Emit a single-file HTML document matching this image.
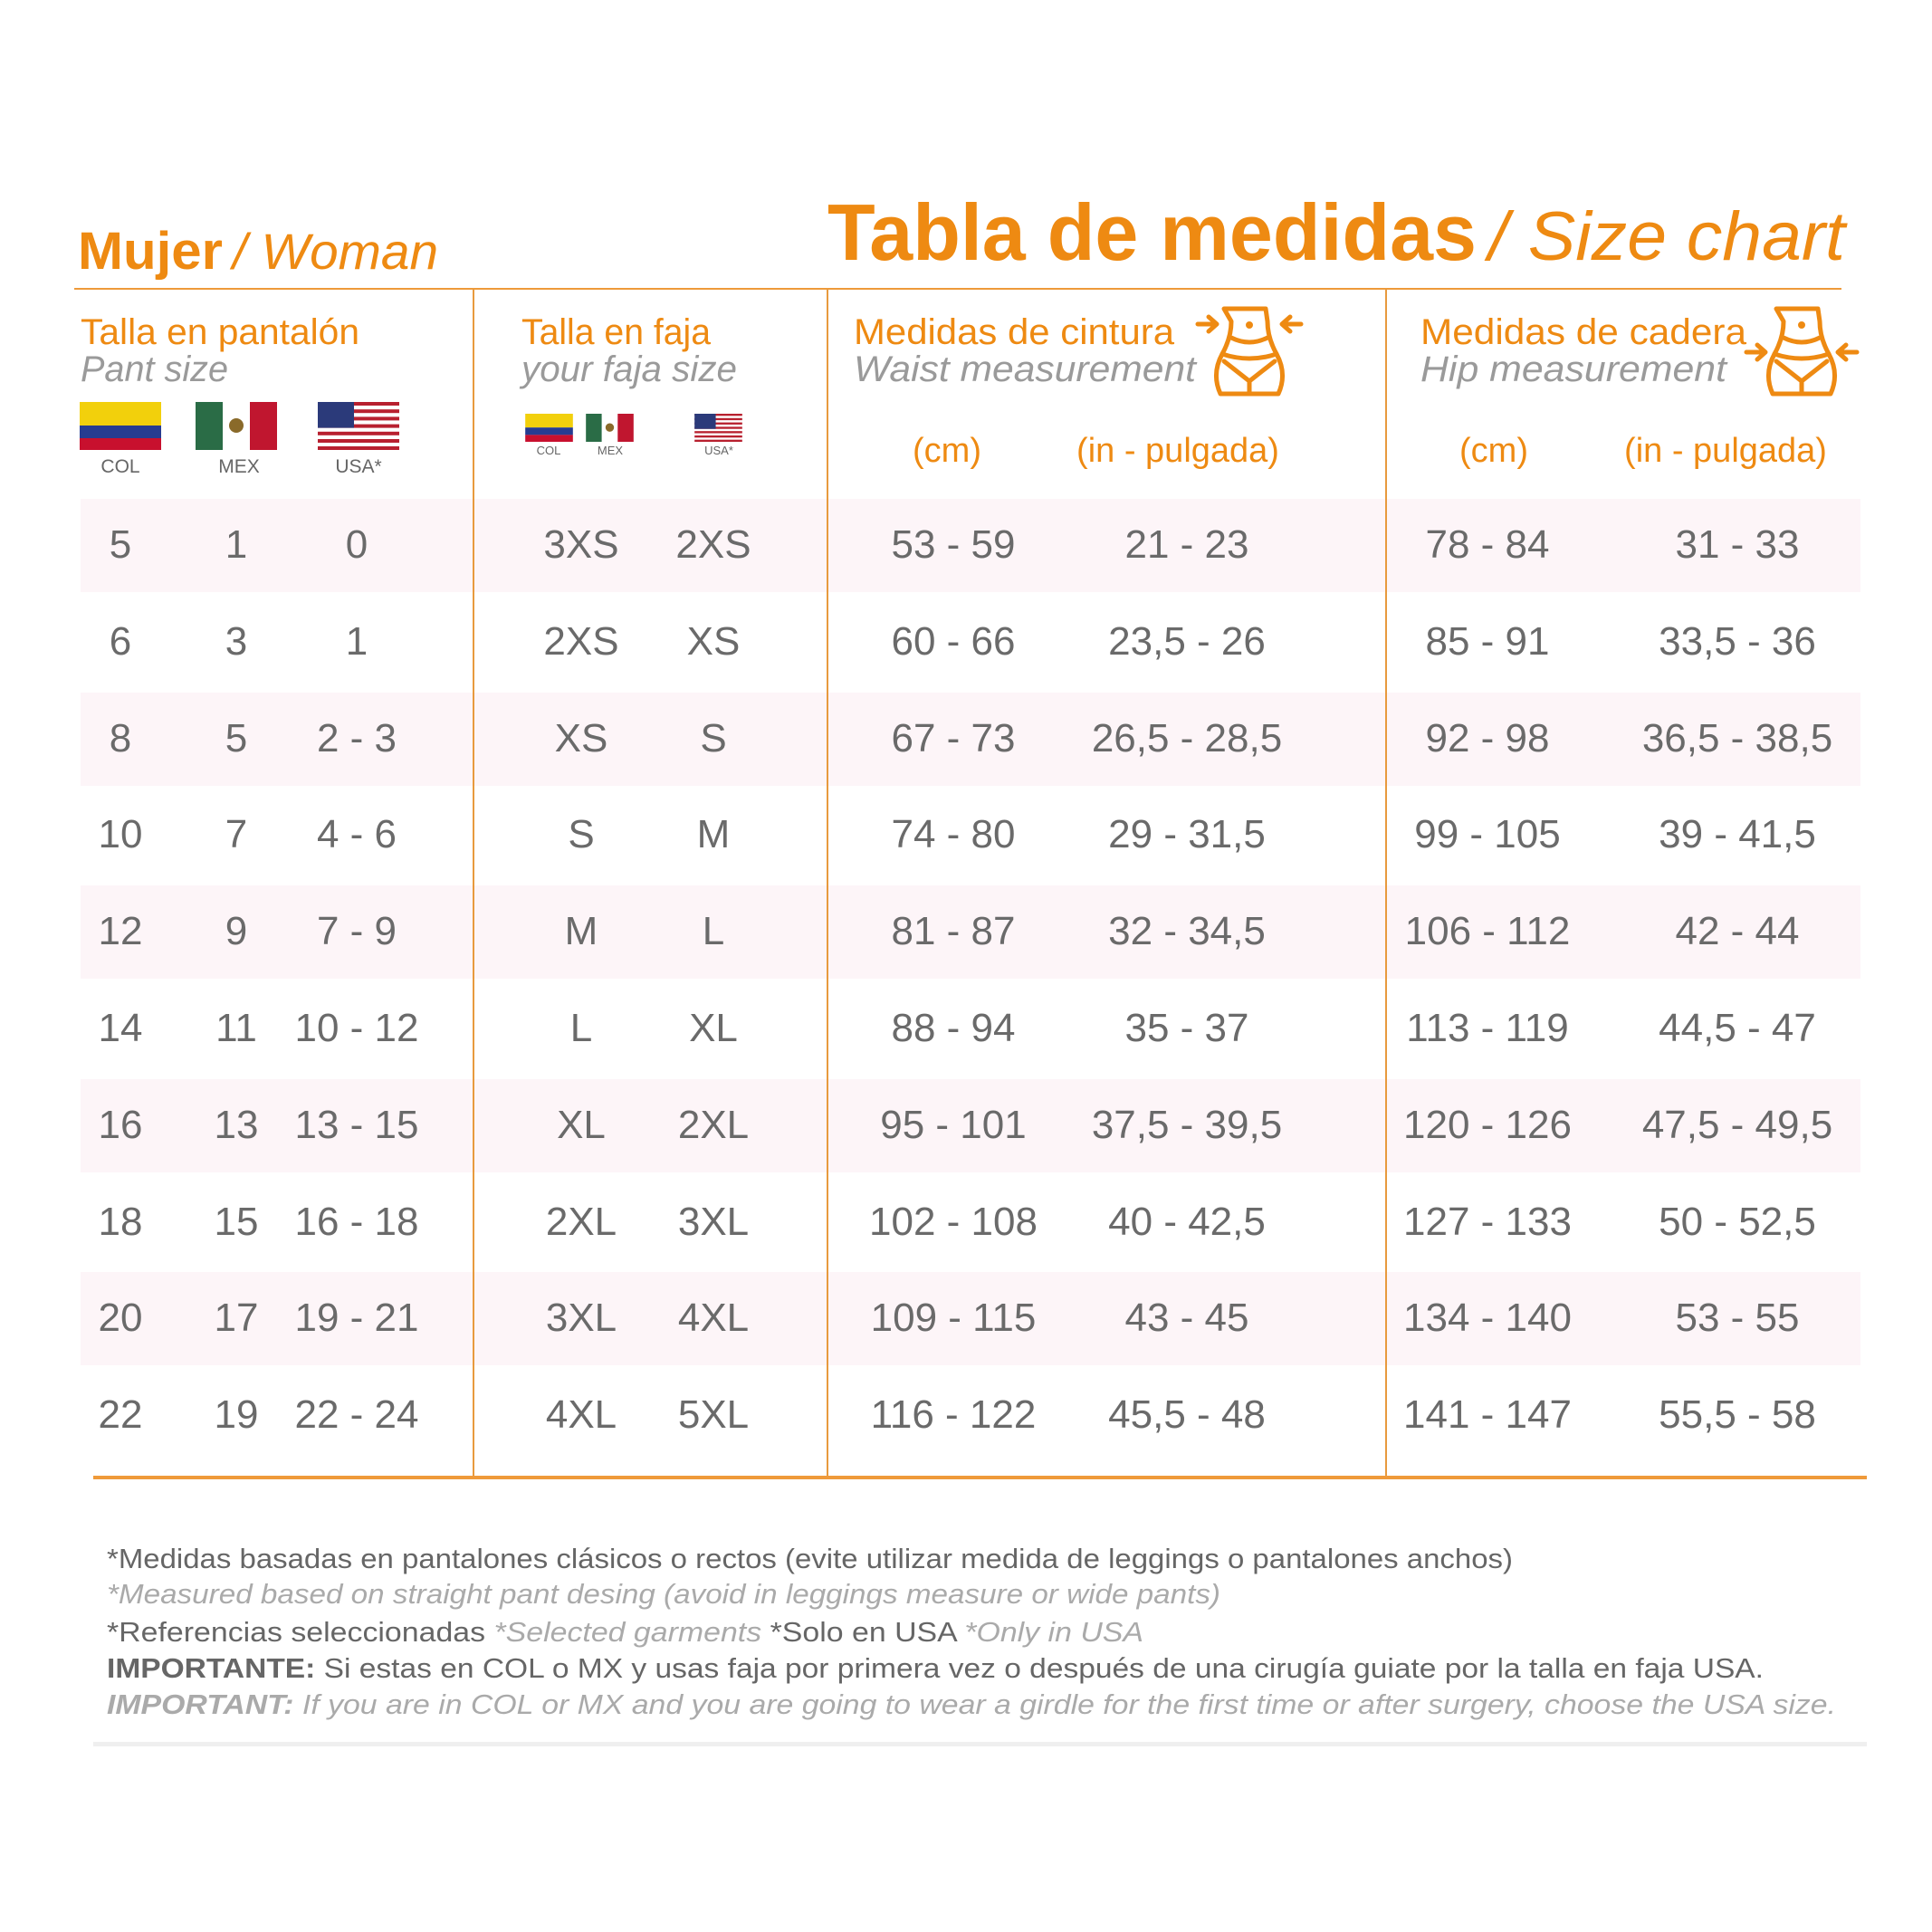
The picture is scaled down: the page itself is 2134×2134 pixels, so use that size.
<!DOCTYPE html>
<html><head><meta charset="utf-8"><style>
html,body{margin:0;padding:0;background:#fff;}
svg{display:block;}
text{font-family:"Liberation Sans",sans-serif;}
.o{fill:#ee8a12;}
.g{fill:#9a9a9a;}
.d{fill:#6a6a6a;font-size:44px;text-anchor:middle;}
.u{fill:#ee8a12;font-size:38px;text-anchor:middle;}
.fl{fill:#666;font-size:21px;text-anchor:middle;}
.fs{fill:#666;font-size:13px;text-anchor:middle;}
</style></head><body>
<svg width="2134" height="2134" viewBox="0 0 2134 2134" xmlns="http://www.w3.org/2000/svg">
<defs>
<symbol id="col" viewBox="0 0 90 53"><rect width="90" height="26" fill="#f2d00c"/><rect y="26" width="90" height="14" fill="#263c91"/><rect y="40" width="90" height="13" fill="#c8102e"/></symbol>
<symbol id="mex" viewBox="0 0 90 53"><rect width="30" height="53" fill="#2a6c46"/><rect x="30" width="30" height="53" fill="#fff"/><rect x="60" width="30" height="53" fill="#c0162f"/><ellipse cx="45" cy="26" rx="8" ry="8" fill="#8a6a2a"/></symbol>
<symbol id="usa" viewBox="0 0 90 53">
<rect width="90" height="53" fill="#fff"/>
<g fill="#b8202f"><rect y="0" width="90" height="4"/><rect y="8.2" width="90" height="4"/><rect y="16.4" width="90" height="4"/><rect y="24.6" width="90" height="4"/><rect y="32.8" width="90" height="4"/><rect y="41" width="90" height="4"/><rect y="49" width="90" height="4"/></g>
<rect width="40" height="28.6" fill="#2b3a7a"/></symbol>
<g id="body" fill="none" stroke="#ee8a12" stroke-width="5" stroke-linecap="round" stroke-linejoin="round">
<path d="M32 8 H78 L80 22 Q80 40 90 58 Q102 80 92 102 H28 Q18 80 30 58 Q40 40 40 22 Z"/>
<path d="M40 40 Q60 50 80 40"/>
<path d="M30 58 Q60 68 90 58"/>
<path d="M32 66 L60 88 L88 66"/><path d="M60 88 V102"/>
<circle cx="60" cy="26" r="1.5" fill="#ee8a12"/>
</g>
</defs>

<text x="86" y="297" class="o" font-size="58" font-weight="bold" textLength="160" lengthAdjust="spacingAndGlyphs">Mujer</text>
<text x="257" y="297" class="o" font-size="56" font-style="italic" textLength="227" lengthAdjust="spacingAndGlyphs">/ Woman</text>
<text x="914" y="287" class="o" font-size="88" font-weight="bold" textLength="717" lengthAdjust="spacingAndGlyphs">Tabla de medidas</text>
<text x="1644" y="287" class="o" font-size="76" font-style="italic" textLength="394" lengthAdjust="spacingAndGlyphs">/ Size chart</text>

<g fill="#fdf5f8">
<rect x="89" y="551" width="1966" height="103"/>
<rect x="89" y="765" width="1966" height="103"/>
<rect x="89" y="978" width="1966" height="103"/>
<rect x="89" y="1192" width="1966" height="103"/>
<rect x="89" y="1405" width="1966" height="103"/>
</g>

<rect x="82" y="318" width="1952" height="2" fill="#ee9a3a"/>
<g fill="#e89a3e"><rect x="522" y="319" width="2" height="1313"/><rect x="913" y="319" width="2" height="1313"/><rect x="1530" y="319" width="2" height="1313"/></g>
<rect x="103" y="1630" width="1959" height="4" fill="#ef9a3a"/>
<rect x="103" y="1924" width="1959" height="5" fill="#efefef"/>

<text x="89" y="380" class="o" font-size="40" textLength="308" lengthAdjust="spacingAndGlyphs">Talla en pantalón</text>
<text x="89" y="421" class="g" font-size="40" font-style="italic" textLength="163" lengthAdjust="spacingAndGlyphs">Pant size</text>
<text x="576" y="380" class="o" font-size="40" textLength="209" lengthAdjust="spacingAndGlyphs">Talla en faja</text>
<text x="576" y="421" class="g" font-size="40" font-style="italic" textLength="238" lengthAdjust="spacingAndGlyphs">your faja size</text>
<text x="943" y="380" class="o" font-size="40" textLength="354" lengthAdjust="spacingAndGlyphs">Medidas de cintura</text>
<text x="943" y="421" class="g" font-size="40" font-style="italic" textLength="378" lengthAdjust="spacingAndGlyphs">Waist measurement</text>
<text x="1569" y="380" class="o" font-size="40" textLength="360" lengthAdjust="spacingAndGlyphs">Medidas de cadera</text>
<text x="1569" y="421" class="g" font-size="40" font-style="italic" textLength="338" lengthAdjust="spacingAndGlyphs">Hip measurement</text>

<g transform="translate(1320,333)">
<use href="#body"/>
<path d="M3 25 H24 M15 17 L24 25 L15 33 M117 25 H96 M105 17 L96 25 L105 33" fill="none" stroke="#ee8a12" stroke-width="5" stroke-linecap="round" stroke-linejoin="round"/>
</g>
<g transform="translate(1930,333)">
<use href="#body"/>
<path d="M-1 56 H20 M11 48 L20 56 L11 64 M121 56 H100 M109 48 L100 56 L109 64" fill="none" stroke="#ee8a12" stroke-width="5" stroke-linecap="round" stroke-linejoin="round"/>
</g>

<use href="#col" x="88" y="444" width="90" height="53"/>
<use href="#mex" x="216" y="444" width="90" height="53"/>
<use href="#usa" x="351" y="444" width="90" height="53"/>
<text x="133" y="522" class="fl">COL</text><text x="264" y="522" class="fl">MEX</text><text x="396" y="522" class="fl">USA*</text>
<use href="#col" x="580" y="457" width="53" height="31"/>
<use href="#mex" x="647" y="457" width="53" height="31"/>
<use href="#usa" x="767" y="457" width="53" height="31"/>
<text x="606" y="502" class="fs">COL</text><text x="674" y="502" class="fs">MEX</text><text x="794" y="502" class="fs">USA*</text>

<text x="1046" y="510" class="u">(cm)</text>
<text x="1301" y="510" class="u">(in - pulgada)</text>
<text x="1650" y="510" class="u">(cm)</text>
<text x="1906" y="510" class="u">(in - pulgada)</text>

<g class="d">
<g transform="translate(0,616)"><text x="133">5</text><text x="261">1</text><text x="394">0</text><text x="642">3XS</text><text x="788">2XS</text><text x="1053">53 - 59</text><text x="1311">21 - 23</text><text x="1643">78 - 84</text><text x="1919">31 - 33</text></g>
<g transform="translate(0,723)"><text x="133">6</text><text x="261">3</text><text x="394">1</text><text x="642">2XS</text><text x="788">XS</text><text x="1053">60 - 66</text><text x="1311">23,5 - 26</text><text x="1643">85 - 91</text><text x="1919">33,5 - 36</text></g>
<g transform="translate(0,830)"><text x="133">8</text><text x="261">5</text><text x="394">2 - 3</text><text x="642">XS</text><text x="788">S</text><text x="1053">67 - 73</text><text x="1311">26,5 - 28,5</text><text x="1643">92 - 98</text><text x="1919">36,5 - 38,5</text></g>
<g transform="translate(0,936)"><text x="133">10</text><text x="261">7</text><text x="394">4 - 6</text><text x="642">S</text><text x="788">M</text><text x="1053">74 - 80</text><text x="1311">29 - 31,5</text><text x="1643">99 - 105</text><text x="1919">39 - 41,5</text></g>
<g transform="translate(0,1043)"><text x="133">12</text><text x="261">9</text><text x="394">7 - 9</text><text x="642">M</text><text x="788">L</text><text x="1053">81 - 87</text><text x="1311">32 - 34,5</text><text x="1643">106 - 112</text><text x="1919">42 - 44</text></g>
<g transform="translate(0,1150)"><text x="133">14</text><text x="261">11</text><text x="394">10 - 12</text><text x="642">L</text><text x="788">XL</text><text x="1053">88 - 94</text><text x="1311">35 - 37</text><text x="1643">113 - 119</text><text x="1919">44,5 - 47</text></g>
<g transform="translate(0,1257)"><text x="133">16</text><text x="261">13</text><text x="394">13 - 15</text><text x="642">XL</text><text x="788">2XL</text><text x="1053">95 - 101</text><text x="1311">37,5 - 39,5</text><text x="1643">120 - 126</text><text x="1919">47,5 - 49,5</text></g>
<g transform="translate(0,1364)"><text x="133">18</text><text x="261">15</text><text x="394">16 - 18</text><text x="642">2XL</text><text x="788">3XL</text><text x="1053">102 - 108</text><text x="1311">40 - 42,5</text><text x="1643">127 - 133</text><text x="1919">50 - 52,5</text></g>
<g transform="translate(0,1470)"><text x="133">20</text><text x="261">17</text><text x="394">19 - 21</text><text x="642">3XL</text><text x="788">4XL</text><text x="1053">109 - 115</text><text x="1311">43 - 45</text><text x="1643">134 - 140</text><text x="1919">53 - 55</text></g>
<g transform="translate(0,1577)"><text x="133">22</text><text x="261">19</text><text x="394">22 - 24</text><text x="642">4XL</text><text x="788">5XL</text><text x="1053">116 - 122</text><text x="1311">45,5 - 48</text><text x="1643">141 - 147</text><text x="1919">55,5 - 58</text></g>
</g>

<g font-size="31">
<text x="118" y="1732" fill="#666" textLength="1553" lengthAdjust="spacingAndGlyphs">*Medidas basadas en pantalones clásicos o rectos (evite utilizar medida de leggings o pantalones anchos)</text>
<text x="118" y="1771" fill="#aaa" font-style="italic" textLength="1230" lengthAdjust="spacingAndGlyphs">*Measured based on straight pant desing (avoid in leggings measure or wide pants)</text>
<text x="118" y="1813" textLength="1145" lengthAdjust="spacingAndGlyphs"><tspan fill="#666">*Referencias seleccionadas </tspan><tspan fill="#aaa" font-style="italic">*Selected garments </tspan><tspan fill="#666">*Solo en USA </tspan><tspan fill="#aaa" font-style="italic">*Only in USA</tspan></text>
<text x="118" y="1853" fill="#666" textLength="1830" lengthAdjust="spacingAndGlyphs"><tspan font-weight="bold">IMPORTANTE:</tspan> Si estas en COL o MX y usas faja por primera vez o después de una cirugía guiate por la talla en faja USA.</text>
<text x="118" y="1893" fill="#aaa" font-style="italic" textLength="1910" lengthAdjust="spacingAndGlyphs"><tspan font-weight="bold">IMPORTANT:</tspan> If you are in COL or MX and you are going to wear a girdle for the first time or after surgery, choose the USA size.</text>
</g>
</svg>
</body></html>
